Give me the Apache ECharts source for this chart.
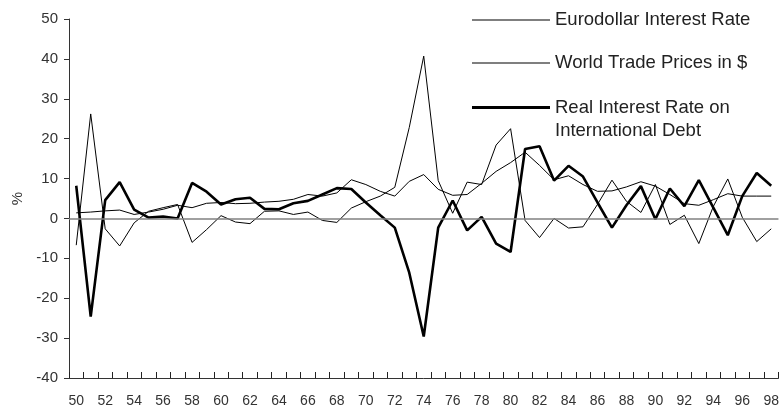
<!DOCTYPE html>
<html>
<head>
<meta charset="utf-8">
<script src="https://cdn.jsdelivr.net/npm/echarts@6/dist/echarts.min.js"></script>
<style>
  html, body { margin: 0; padding: 0; background: #fff; }
  #chart { width: 782px; height: 410px; }
</style>
</head>
<body>
<div id="chart"></div>
<script>
// years 1950-1998
var years = ['50','51','52','53','54','55','56','57','58','59',
             '60','61','62','63','64','65','66','67','68','69',
             '70','71','72','73','74','75','76','77','78','79',
             '80','81','82','83','84','85','86','87','88','89',
             '90','91','92','93','94','95','96','97','98'];

var eurodollar = [1.4, 1.6, 1.9, 2.1, 1.0, 1.6, 2.3, 3.3, 2.7, 3.8,
                  4.0, 3.7, 3.8, 4.1, 4.3, 4.8, 6.0, 5.6, 6.4, 9.7,
                  8.5, 6.8, 5.6, 9.3, 11.0, 7.3, 5.8, 6.0, 8.8, 11.8,
                  14.0, 16.6, 13.3, 9.7, 10.7, 8.5, 6.8, 6.9, 7.9, 9.2,
                  8.1, 6.0, 3.7, 3.3, 4.7, 6.2, 5.6, 5.6, 5.6];

var worldTrade = [-6.7, 26.2, -2.6, -6.9, -1.1, 1.8, 2.7, 3.5, -6.0, -2.8,
                  0.7, -0.9, -1.3, 1.8, 1.9, 1.0, 1.6, -0.5, -1.0, 2.6,
                  4.2, 5.6, 7.8, 22.8, 40.7, 9.5, 1.3, 9.1, 8.5, 18.4,
                  22.5, -0.5, -4.8, 0.0, -2.4, -2.1, 3.5, 9.6, 4.3, 1.5,
                  8.5, -1.5, 0.8, -6.3, 3.0, 9.9, 0.3, -5.8, -2.6];

var realRate = [8.2, -24.6, 4.6, 9.1, 2.2, 0.2, 0.5, 0.0, 8.9, 6.7,
                3.5, 4.8, 5.2, 2.4, 2.3, 3.8, 4.4, 6.0, 7.6, 7.4,
                4.0, 0.8, -2.3, -13.6, -29.6, -2.3, 4.5, -3.0, 0.4, -6.3,
                -8.4, 17.4, 18.1, 9.5, 13.2, 10.5, 4.0, -2.3, 3.3, 8.1,
                -0.2, 7.5, 3.1, 9.6, 2.7, -4.2, 5.6, 11.4, 8.2];

var names = ['Eurodollar Interest Rate', 'World Trade Prices in $', 'Real Interest Rate on\nInternational Debt'];

var myChart = echarts.init(document.getElementById('chart'), null, { renderer: 'canvas' });

var font = 'Liberation Sans, Arial, sans-serif';

function legendAt(name, top, h, lh, fmt) {
    var lg = {
        data: [name],
        left: 472,
        top: top,
        padding: 0,
        icon: 'rect',
        itemWidth: 78,
        itemHeight: h,
        itemGap: 0,
        selectedMode: false,
        textStyle: {
            fontFamily: font,
            fontSize: 18.5,
            color: '#222',
            lineHeight: lh
        }
    };
    if (fmt) lg.formatter = fmt;
    return lg;
}

var option = {
    backgroundColor: '#fff',
    animation: false,
    grid: { left: 69, right: 3, top: 19, bottom: 32 },
    legend: [
        legendAt(names[0], 10, 1, 20),
        legendAt(names[1], 53, 1, 20),
        // blank first line keeps the thick line level with the first text line
        legendAt(names[2], 73, 3, 23, function (n) { return ' \n' + n; })
    ],
    xAxis: {
        type: 'category',
        data: years,
        boundaryGap: true,
        axisLine: { onZero: false, lineStyle: { color: '#333', width: 1 } },
        axisTick: { show: true, inside: true, length: 6, interval: 0, lineStyle: { color: '#222', width: 1 } },
        axisLabel: { interval: 1, margin: 16, color: '#333', fontSize: 14, fontFamily: font },
        splitLine: { show: false }
    },
    yAxis: {
        type: 'value',
        min: -40,
        max: 50,
        interval: 10,
        name: '%',
        nameLocation: 'middle',
        nameRotate: 90,
        nameGap: 44,
        nameTextStyle: { color: '#333', fontSize: 15, fontFamily: font },
        axisLine: { show: true, lineStyle: { color: '#333', width: 1 } },
        axisTick: { show: true, length: 5, lineStyle: { color: '#333' } },
        axisLabel: { margin: 11, color: '#333', fontSize: 15, fontFamily: font },
        splitLine: { show: false }
    },
    series: [
        {
            name: names[0],
            type: 'line',
            data: eurodollar,
            symbol: 'none',
            color: '#000',
            lineStyle: { color: '#000', width: 1 },
            markLine: {
                silent: true,
                symbol: 'none',
                label: { show: false },
                lineStyle: { color: '#808080', type: 'solid', width: 1.6 },
                data: [{ yAxis: 0 }]
            },
            z: 3
        },
        {
            name: names[1],
            type: 'line',
            data: worldTrade,
            symbol: 'none',
            color: '#000',
            lineStyle: { color: '#000', width: 1 },
            z: 3
        },
        {
            name: names[2],
            type: 'line',
            data: realRate,
            symbol: 'none',
            color: '#000',
            lineStyle: { color: '#000', width: 2.6 },
            z: 4
        }
    ]
};

myChart.setOption(option);
</script>
</body>
</html>
